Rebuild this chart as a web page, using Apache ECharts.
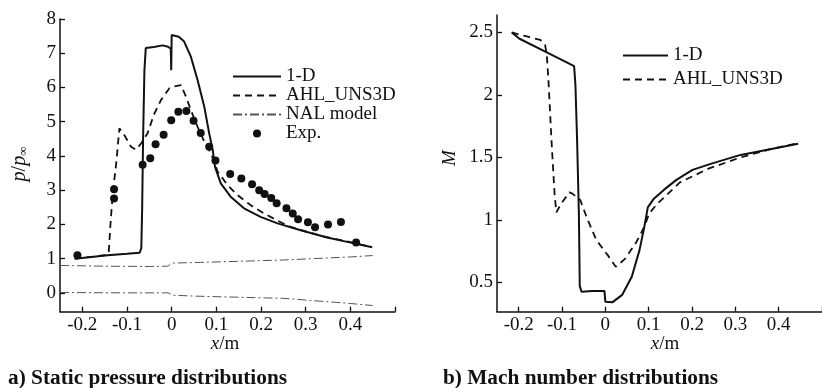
<!DOCTYPE html>
<html>
<head>
<meta charset="utf-8">
<script src="https://cdn.jsdelivr.net/npm/echarts@6/dist/echarts.min.js"></script>
<style>html,body{margin:0;padding:0;background:#fff}#c{width:822px;height:388px}</style>
</head>
<body>
<div id="c"></div>
<script>
// ---- data: (a) static pressure p/p_inf vs x (m)
var pOneD = [[-0.217,1.0],[-0.18,1.05],[-0.143,1.1],[-0.1,1.14],[-0.072,1.17],[-0.068,1.3],[-0.066,2.5],[-0.064,4.5],[-0.061,6.5],[-0.058,7.15],[-0.04,7.18],[-0.02,7.23],[-0.008,7.19],[-0.002,7.13],[-0.001,6.5],[0.0,7.53],[0.016,7.48],[0.028,7.34],[0.043,6.9],[0.058,6.22],[0.073,5.44],[0.084,4.66],[0.092,4.17],[0.097,3.68],[0.11,3.2],[0.132,2.81],[0.162,2.47],[0.199,2.22],[0.237,2.03],[0.289,1.83],[0.348,1.62],[0.393,1.49],[0.449,1.33]];
var pAHL = [[-0.217,1.0],[-0.18,1.05],[-0.15,1.1],[-0.141,1.15],[-0.137,2.0],[-0.132,2.9],[-0.124,3.8],[-0.117,4.81],[-0.106,4.61],[-0.091,4.27],[-0.08,4.18],[-0.068,4.37],[-0.054,4.66],[-0.04,5.2],[-0.024,5.63],[-0.005,5.98],[0.005,6.03],[0.021,6.07],[0.032,5.73],[0.043,5.34],[0.058,4.85],[0.073,4.42],[0.088,4.08],[0.103,3.54],[0.125,3.15],[0.147,2.86],[0.177,2.56],[0.207,2.32],[0.237,2.11],[0.266,1.93],[0.304,1.78],[0.333,1.67],[0.371,1.56],[0.415,1.44],[0.445,1.34]];
var pNALupper = [[-0.25,0.8],[-0.15,0.78],[-0.05,0.77],[-0.008,0.78],[0.0,0.87],[0.065,0.89],[0.25,0.96],[0.4,1.05],[0.45,1.09]];
var pNALlower = [[-0.25,0.01],[-0.1,0.0],[-0.008,0.0],[0.004,-0.07],[0.065,-0.1],[0.25,-0.16],[0.4,-0.31],[0.45,-0.37]];
var pExp = [[-0.211,1.1],[-0.129,3.03],[-0.129,2.76],[-0.065,3.74],[-0.048,3.93],[-0.036,4.34],[-0.018,4.62],[-0.001,5.04],[0.015,5.29],[0.033,5.31],[0.049,5.03],[0.065,4.67],[0.084,4.27],[0.098,3.87],[0.131,3.47],[0.156,3.34],[0.18,3.17],[0.196,3.0],[0.208,2.89],[0.223,2.77],[0.235,2.62],[0.257,2.47],[0.271,2.32],[0.283,2.15],[0.305,2.06],[0.321,1.92],[0.35,2.0],[0.379,2.07],[0.413,1.47]];
// ---- data: (b) Mach number vs x (m)
var mOneD = [[-0.216,2.5],[-0.198,2.45],[-0.135,2.34],[-0.072,2.23],[-0.069,2.08],[-0.065,1.62],[-0.061,1.04],[-0.059,0.47],[-0.055,0.425],[-0.03,0.43],[-0.002,0.43],[0.0,0.345],[0.016,0.34],[0.039,0.4],[0.061,0.545],[0.079,0.76],[0.09,0.945],[0.098,1.1],[0.112,1.17],[0.135,1.24],[0.164,1.32],[0.201,1.4],[0.245,1.45],[0.312,1.52],[0.386,1.57],[0.445,1.61]];
var mAHL = [[-0.216,2.5],[-0.183,2.47],[-0.15,2.44],[-0.139,2.4],[-0.135,2.32],[-0.131,2.1],[-0.124,1.62],[-0.117,1.2],[-0.113,1.06],[-0.102,1.13],[-0.083,1.22],[-0.076,1.21],[-0.058,1.16],[-0.043,1.02],[-0.021,0.84],[0.005,0.72],[0.024,0.625],[0.046,0.69],[0.072,0.825],[0.09,0.945],[0.101,1.05],[0.12,1.13],[0.142,1.2],[0.172,1.3],[0.238,1.41],[0.312,1.5],[0.385,1.57],[0.445,1.615]];
// ---- tick labels
var xTicks = [-0.2,-0.1,0,0.1,0.2,0.3,0.4];
var xTickMarks = [-0.2,-0.1,0,0.1,0.2,0.3,0.4,0.5];
var pTicks = [0,1,2,3,4,5,6,7,8];
var mTicks = [0.5,1,1.5,2,2.5];
var names = ['1-D','AHL_UNS3D','NAL model','Exp.'];

var FONT = '"Liberation Serif","DejaVu Serif",serif';
var BLACK = '#111';
var nalData = pNALupper.concat([[null,null]]).concat(pNALlower);
var HIDE = {color:'rgba(0,0,0,0)', borderColor:'rgba(0,0,0,0)', borderWidth:0};

function xAxisDef(gi){
  return {
    type:'value', gridIndex:gi, min:-0.25, max:0.5,
    axisLine:{show:true, onZero:false, lineStyle:{color:BLACK, width:1.5}},
    axisTick:{show:true, inside:true, length:5, lineStyle:{color:BLACK, width:1.3}, customValues:xTickMarks},
    axisLabel:{show:true, margin:4, color:BLACK, fontFamily:FONT, fontSize:19, customValues:xTicks,
      formatter:function(v){return (Math.round(v*10)/10).toString();}},
    splitLine:{show:false}
  };
}
function yAxisDef(gi,min,max,ticks){
  return {
    type:'value', gridIndex:gi, min:min, max:max,
    axisLine:{show:true, onZero:false, lineStyle:{color:BLACK, width:1.5}},
    axisTick:{show:true, inside:true, length:5, lineStyle:{color:BLACK, width:1.3}, customValues:ticks},
    axisLabel:{show:true, margin:4, color:BLACK, fontFamily:FONT, fontSize:19, customValues:ticks},
    splitLine:{show:false}
  };
}

var chart = echarts.init(document.getElementById('c'), null, {renderer:'canvas'});
chart.setOption({
  animation:false,
  backgroundColor:'#fff',
  grid:[
    {left:60, top:19, width:335, height:292.7},
    {left:497, top:15, width:338, height:296.7}
  ],
  xAxis:[xAxisDef(0), xAxisDef(1)],
  yAxis:[yAxisDef(0,-0.55,8,pTicks), yAxisDef(1,0.265,2.64,mTicks)],
  legend:[
    {data:[{name:names[0], itemStyle:HIDE},{name:names[1], itemStyle:HIDE},{name:names[2], itemStyle:HIDE},{name:names[3]}],
      orient:'vertical', left:227, top:62, itemWidth:48, itemHeight:8, itemGap:0,
      textStyle:{color:BLACK, fontFamily:FONT, fontSize:19, lineHeight:19}, selectedMode:false},
    {data:[{name:names[0], itemStyle:HIDE},{name:names[1], itemStyle:HIDE}],
      orient:'vertical', left:617, top:41, itemWidth:45, itemHeight:8, itemGap:5,
      textStyle:{color:BLACK, fontFamily:FONT, fontSize:19, lineHeight:19}, selectedMode:false}
  ],
  series:[
    {name:names[0], type:'line', xAxisIndex:0, yAxisIndex:0, data:pOneD, symbol:'none',
      lineStyle:{color:BLACK, width:2}, itemStyle:{color:BLACK}},
    {name:names[1], type:'line', xAxisIndex:0, yAxisIndex:0, data:pAHL, symbol:'none',
      lineStyle:{color:BLACK, width:1.8, type:[7,5]}, itemStyle:{color:BLACK}},
    {name:names[2], type:'line', xAxisIndex:0, yAxisIndex:0, data:nalData, symbol:'none', connectNulls:false,
      lineStyle:{color:'#555', width:1, type:[9,3,2,3]}, itemStyle:{color:'#555'}},
    {name:names[3], type:'scatter', xAxisIndex:0, yAxisIndex:0, data:pExp, symbol:'circle', symbolSize:8,
      itemStyle:{color:BLACK, opacity:1}},
    {name:names[0], type:'line', xAxisIndex:1, yAxisIndex:1, data:mOneD, symbol:'none',
      lineStyle:{color:BLACK, width:2}, itemStyle:{color:BLACK}},
    {name:names[1], type:'line', xAxisIndex:1, yAxisIndex:1, data:mAHL, symbol:'none',
      lineStyle:{color:BLACK, width:1.8, type:[7,5]}, itemStyle:{color:BLACK}}
  ],
  graphic:[
    {type:'text', x:20, y:164, rotation:Math.PI/2, style:{
      text:'{i|p}/{i|p}{s|∞}', align:'center', verticalAlign:'middle',
      rich:{i:{fontFamily:FONT, fontStyle:'italic', fontSize:20, fill:BLACK},
            s:{fontFamily:FONT, fontSize:13, fill:BLACK, padding:[8,0,0,0]}},
      fontFamily:FONT, fontSize:20, fill:BLACK}},
    {type:'text', x:450, y:158, rotation:Math.PI/2, style:{
      text:'M', align:'center', verticalAlign:'middle', fontFamily:FONT, fontStyle:'italic', fontSize:19, fill:BLACK}},
    {type:'text', x:225, y:344, style:{
      text:'{i|x}/m', align:'center', verticalAlign:'middle',
      rich:{i:{fontFamily:FONT, fontStyle:'italic', fontSize:19, fill:BLACK}},
      fontFamily:FONT, fontSize:19, fill:BLACK}},
    {type:'text', x:665, y:344, style:{
      text:'{i|x}/m', align:'center', verticalAlign:'middle',
      rich:{i:{fontFamily:FONT, fontStyle:'italic', fontSize:19, fill:BLACK}},
      fontFamily:FONT, fontSize:19, fill:BLACK}},
    {type:'text', x:8, y:378, style:{
      text:'a) Static pressure distributions', align:'left', verticalAlign:'middle',
      fontFamily:FONT, fontWeight:'bold', fontSize:21.3, fill:BLACK}},
    {type:'text', x:443, y:378, style:{
      text:'b) Mach number distributions', align:'left', verticalAlign:'middle',
      fontFamily:FONT, fontWeight:'bold', fontSize:21.3, fill:BLACK}}
  ]
});
</script>
</body>
</html>
